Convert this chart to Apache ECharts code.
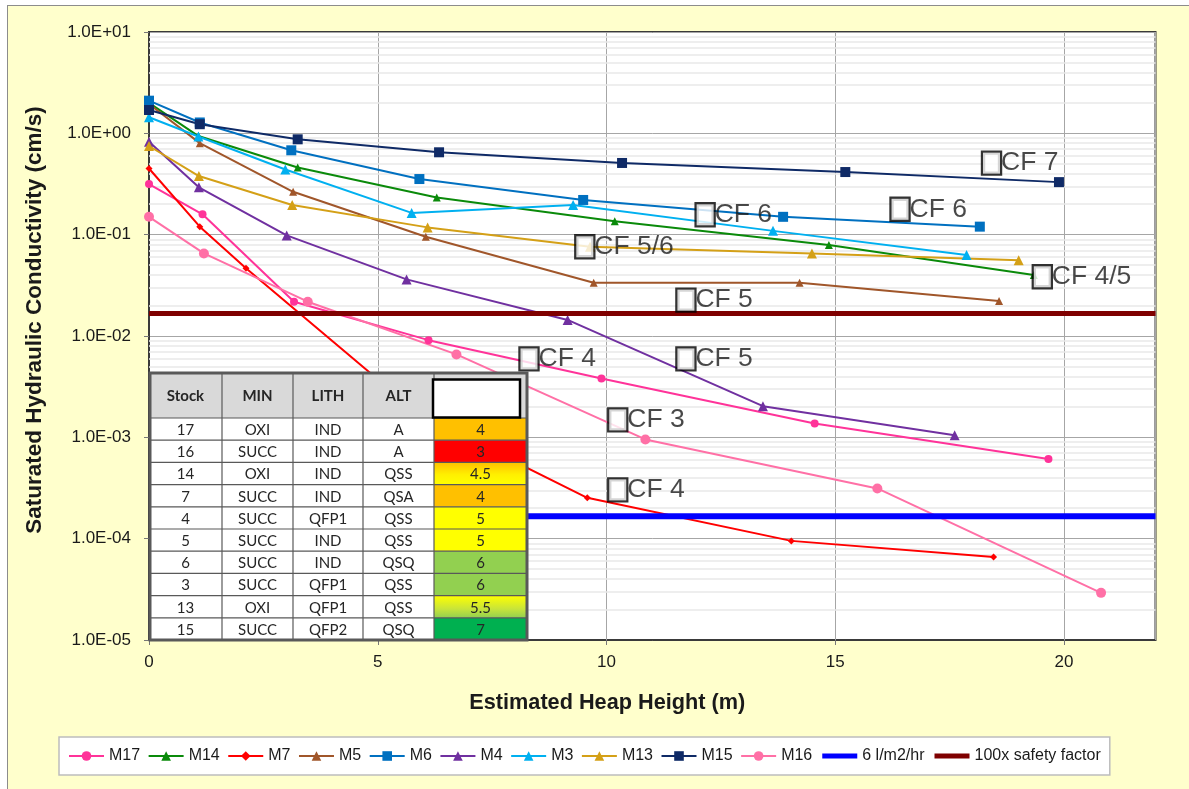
<!DOCTYPE html>
<html>
<head>
<meta charset="utf-8">
<title>Saturated Hydraulic Conductivity vs Estimated Heap Height</title>
<script src="https://cdn.jsdelivr.net/npm/echarts@6/dist/echarts.min.js"></script>
<style>
  html, body { margin: 0; padding: 0; background: #fff; }
  #frame { position: absolute; left: 7px; top: 5px; width: 1182px; height: 784px;
           background: #FFFFCC; border-left: 1px solid #8c8c8c; border-top: 1px solid #8c8c8c;
           box-sizing: border-box; }
  #chart { position: absolute; left: 0; top: 0; width: 1189px; height: 789px; }
</style>
</head>
<body>
<div id="frame"></div>
<div id="chart"></div>
<script>
// ---- Column test results: estimated heap height (m) vs saturated K (cm/s) ----
const m17X = [0, 1.17, 3.17, 6.11, 9.89, 14.55, 19.66];
const m17Y = [0.316, 0.159, 0.0218, 0.0091, 0.0038, 0.00137, 0.00061];

const m14X = [0, 1.08, 3.25, 6.29, 10.18, 14.86, 19.34];
const m14Y = [2.0, 0.94, 0.46, 0.233, 0.136, 0.079, 0.040];

const m7X = [0, 1.11, 2.12, 5.9, 9.58, 14.04, 18.46];
const m7Y = [0.45, 0.12, 0.0467, 0.0017, 0.000253, 0.0000951, 0.0000661];

const m5X = [0, 1.11, 3.15, 6.05, 9.72, 14.22, 18.58];
const m5Y = [1.95, 0.80, 0.265, 0.0955, 0.0335, 0.0335, 0.0222];

const m6X = [0, 1.11, 3.11, 5.91, 9.49, 13.86, 18.16];
const m6Y = [2.1, 1.28, 0.68, 0.354, 0.22, 0.150, 0.120];

const m4X = [0, 1.09, 3.01, 5.63, 9.15, 13.42, 17.61];
const m4Y = [0.826, 0.293, 0.0984, 0.0362, 0.0144, 0.00203, 0.00105];

const m3X = [0, 1.08, 2.98, 5.74, 9.27, 13.64, 17.87];
const m3Y = [1.44, 0.93, 0.44, 0.164, 0.196, 0.109, 0.063];

const m13X = [0, 1.09, 3.13, 6.09, 9.64, 14.49, 19.01];
const m13Y = [0.75, 0.379, 0.196, 0.118, 0.076, 0.0653, 0.056];

const m15X = [0, 1.11, 3.25, 6.34, 10.34, 15.22, 19.89];
const m15Y = [1.70, 1.23, 0.873, 0.65, 0.51, 0.415, 0.33];

const m16X = [0, 1.20, 3.47, 6.72, 10.85, 15.92, 20.81];
const m16Y = [0.150, 0.0653, 0.0218, 0.00658, 0.000953, 0.000313, 0.0000292];

// Design limits (cm/s): 6 l/m2/hr irrigation rate and the same with a 100x safety factor
const limitX = [0, 22];
const irrigationK = [0.0001667, 0.0001667];
const safetyK = [0.01667, 0.01667];

// Competency-factor notes placed on the chart (data coordinates)
const noteX = [18.23, 11.97, 16.23, 9.34, 19.34, 11.55, 8.12, 11.55, 10.06, 10.06];
const noteY = [0.508, 0.157, 0.178, 0.0759, 0.0384, 0.0226, 0.00594, 0.00594, 0.001486, 0.000303];
const noteText = ['CF 7', 'CF 6', 'CF 6', 'CF 5/6', 'CF 4/5', 'CF 5', 'CF 4', 'CF 5', 'CF 3', 'CF 4'];

// Stock classification table
const tblHeader = ['Stock', 'MIN', 'LITH', 'ALT', ''];
const tblStock = ['17', '16', '14', '7', '4', '5', '6', '3', '13', '15'];
const tblMin = ['OXI', 'SUCC', 'OXI', 'SUCC', 'SUCC', 'SUCC', 'SUCC', 'SUCC', 'OXI', 'SUCC'];
const tblLith = ['IND', 'IND', 'IND', 'IND', 'QFP1', 'IND', 'IND', 'QFP1', 'QFP1', 'QFP2'];
const tblAlt = ['A', 'A', 'QSS', 'QSA', 'QSS', 'QSS', 'QSQ', 'QSS', 'QSS', 'QSQ'];
const tblCf = [4, 3, 4.5, 4, 5, 5, 6, 6, 5.5, 7];

// Minor log grid values (2..9 of each decade)
const minorGrid = [];
for (let e = -5; e < 1; e++) {
  for (let m = 2; m <= 9; m++) minorGrid.push(m * Math.pow(10, e));
}

const FONT = '"Liberation Sans", Arial, sans-serif';
const TFONT = 'Lato, "Open Sans", sans-serif';

function pairs(xs, ys) { return xs.map((x, i) => [x, ys[i]]); }

function sciLabel(v) {
  const e = Math.round(Math.log10(v));
  return '1.0E' + (e < 0 ? '-' : '+') + String(Math.abs(e)).padStart(2, '0');
}

const seriesDefs = [
  { name: 'M17', x: m17X, y: m17Y, color: '#FF3399', symbol: 'circle', size: 8 },
  { name: 'M14', x: m14X, y: m14Y, color: '#0A8A0A', symbol: 'triangle', size: 8 },
  { name: 'M7', x: m7X, y: m7Y, color: '#FF0000', symbol: 'diamond', size: 7 },
  { name: 'M5', x: m5X, y: m5Y, color: '#A0562A', symbol: 'triangle', size: 8 },
  { name: 'M6', x: m6X, y: m6Y, color: '#0070C0', symbol: 'rect', size: 10 },
  { name: 'M4', x: m4X, y: m4Y, color: '#7030A0', symbol: 'triangle', size: 10 },
  { name: 'M3', x: m3X, y: m3Y, color: '#00B0F0', symbol: 'triangle', size: 10 },
  { name: 'M13', x: m13X, y: m13Y, color: '#D4A017', symbol: 'triangle', size: 10 },
  { name: 'M15', x: m15X, y: m15Y, color: '#0F2A66', symbol: 'rect', size: 10 },
  { name: 'M16', x: m16X, y: m16Y, color: '#FF70A6', symbol: 'circle', size: 10 }
];

const series = [];

// light minor gridlines, kept underneath the data lines
series.push({
  name: 'minor-grid', type: 'line', data: [], z: 1, silent: true,
  markLine: {
    z: 1, silent: true, symbol: ['none', 'none'], label: { show: false },
    lineStyle: { color: '#e9e9e9', width: 1.5, type: 'solid' },
    emphasis: { disabled: true },
    data: minorGrid.map(v => [{ coord: [0, v] }, { coord: [22, v] }])
  }
});

seriesDefs.forEach(d => {
  series.push({
    name: d.name, type: 'line', data: pairs(d.x, d.y),
    symbol: d.symbol, symbolSize: d.size, showAllSymbol: true,
    itemStyle: { color: d.color }, lineStyle: { color: d.color, width: 2 },
    z: 3, emphasis: { disabled: true }
  });
});

series.push({
  name: '6 l/m2/hr', type: 'line', data: pairs(limitX, irrigationK), symbol: 'none',
  itemStyle: { color: '#0000FF' }, lineStyle: { color: '#0000FF', width: 6 }, z: 4,
  emphasis: { disabled: true }
});
series.push({
  name: '100x safety factor', type: 'line', data: pairs(limitX, safetyK), symbol: 'none',
  itemStyle: { color: '#7F0000' }, lineStyle: { color: '#7F0000', width: 5 }, z: 4,
  emphasis: { disabled: true }
});

// CF notes: an empty framed box followed by the label text
series.push({
  name: 'notes', type: 'scatter', z: 6, silent: true,
  data: noteX.map((x, i) => [x, noteY[i], noteText[i]]),
  symbolSize: 0,
  label: {
    show: true, position: 'right', distance: 0,
    formatter: p => '{b| }{t|' + p.data[2] + '}',
    rich: {
      b: { width: 17, height: 21, backgroundColor: '#fff', borderColor: '#000', borderWidth: 2.2 },
      t: { fontFamily: FONT, fontSize: 26.5, color: '#1a1a1a', padding: [0, 0, 0, 1] }
    }
  }
});

// ---- table overlay ----
const colEdges = [149, 222, 293, 363, 434, 527];
const tTop = 373, headH = 45, rowH = 22.2;
const tBottom = tTop + headH + rowH * tblStock.length;

function cfFill(v) {
  const G = echarts.graphic.LinearGradient;
  if (v === 3) return '#FF0000';
  if (v === 4) return '#FFC000';
  if (v === 4.5) return new G(0, 0, 0, 1, [{ offset: 0, color: '#FFC000' }, { offset: 0.55, color: '#FFF000' }, { offset: 1, color: '#FFFF00' }]);
  if (v === 5) return '#FFFF00';
  if (v === 5.5) return new G(0, 0, 0, 1, [{ offset: 0, color: '#FFFF00' }, { offset: 0.6, color: '#C8E43A' }, { offset: 1, color: '#92D050' }]);
  if (v === 6) return '#92D050';
  return '#00B050';
}

const tbl = [];
const tW = colEdges[colEdges.length - 1] - colEdges[0];
tbl.push({ type: 'rect', z: 50, shape: { x: colEdges[0], y: tTop, width: tW, height: headH }, style: { fill: '#D9D9D9' } });
tbl.push({ type: 'rect', z: 50, shape: { x: colEdges[0], y: tTop + headH, width: tW, height: rowH * tblStock.length }, style: { fill: '#fff' } });
tblCf.forEach((v, i) => {
  tbl.push({ type: 'rect', z: 51, shape: { x: colEdges[4], y: tTop + headH + i * rowH, width: colEdges[5] - colEdges[4], height: rowH }, style: { fill: cfFill(v) } });
});
// cell rules
colEdges.slice(1, -1).forEach(x => {
  tbl.push({ type: 'line', z: 52, shape: { x1: x, y1: tTop, x2: x, y2: tBottom }, style: { stroke: '#595959', lineWidth: 1.2 } });
});
for (let i = 0; i < tblStock.length; i++) {
  const y = tTop + headH + i * rowH;
  tbl.push({ type: 'line', z: 52, shape: { x1: colEdges[0], y1: y, x2: colEdges[5], y2: y }, style: { stroke: '#595959', lineWidth: 1.2 } });
}
// header cells
tblHeader.forEach((h, c) => {
  if (!h) return;
  tbl.push({ type: 'text', z: 53, style: { text: h, x: (colEdges[c] + colEdges[c + 1]) / 2, y: tTop + headH / 2 + 1,
    align: 'center', verticalAlign: 'middle', font: 'bold 15px ' + TFONT, fill: '#262626' } });
});
tbl.push({ type: 'rect', z: 53, shape: { x: colEdges[4] - 1, y: tTop + 6.5, width: colEdges[5] - colEdges[4] - 6, height: headH - 7 },
  style: { fill: '#fff', stroke: '#000', lineWidth: 2.5 } });
// body cells
const cols = [tblStock, tblMin, tblLith, tblAlt, tblCf.map(String)];
cols.forEach((col, c) => {
  col.forEach((txt, r) => {
    tbl.push({ type: 'text', z: 53, style: { text: txt, x: (colEdges[c] + colEdges[c + 1]) / 2, y: tTop + headH + r * rowH + rowH / 2 + 1,
      align: 'center', verticalAlign: 'middle', font: '15px ' + TFONT, fill: '#262626' } });
  });
});
tbl.push({ type: 'rect', z: 54, shape: { x: colEdges[0] + 1, y: tTop, width: tW - 1, height: tBottom - tTop },
  style: { fill: 'none', stroke: '#595959', lineWidth: 3 } });

const legendNames = seriesDefs.map(d => d.name)
  .concat([
    { name: '6 l/m2/hr', itemStyle: { opacity: 0 }, lineStyle: { width: 5 } },
    { name: '100x safety factor', itemStyle: { opacity: 0 }, lineStyle: { width: 5 } }
  ]);

const chart = echarts.init(document.getElementById('chart'), null, { renderer: 'canvas' });
chart.setOption({
  animation: false,
  backgroundColor: 'transparent',
  grid: { left: 149, right: 33.5, top: 32, bottom: 149, show: true, backgroundColor: '#fff',
          borderColor: '#3a3a3a', borderWidth: 2 },
  xAxis: {
    type: 'value', min: 0, max: 22, interval: 5,
    name: 'Estimated Heap Height (m)', nameLocation: 'middle', nameGap: 52,
    nameTextStyle: { fontFamily: FONT, fontWeight: 'bold', fontSize: 21.7, color: '#1a1a1a', padding: [0, 90, 0, 0] },
    axisLine: { show: true, onZero: false, lineStyle: { color: '#3a3a3a', width: 1 } },
    axisTick: { show: true, length: 5, lineStyle: { color: '#777' } },
    axisLabel: { fontFamily: FONT, fontSize: 17, color: '#1a1a1a', margin: 14, showMaxLabel: false },
    splitLine: { show: true, lineStyle: { color: '#a6a6a6', width: 1 } }
  },
  yAxis: {
    type: 'log', logBase: 10, min: 0.00001, max: 10, splitNumber: 6,
    name: 'Saturated Hydraulic Conductivity (cm/s)', nameLocation: 'middle', nameGap: 103,
    nameTextStyle: { fontFamily: FONT, fontWeight: 'bold', fontSize: 22.5, color: '#1a1a1a', padding: [0, 0, 0, 32] },
    axisLine: { show: true, lineStyle: { color: '#3a3a3a', width: 1 } },
    axisTick: { show: true, length: 5, lineStyle: { color: '#777' } },
    minorTick: { show: false },
    axisLabel: { fontFamily: FONT, fontSize: 17, color: '#1a1a1a', margin: 18, formatter: sciLabel },
    splitLine: { show: true, lineStyle: { color: '#a6a6a6', width: 1 } }
  },
  legend: {
    data: legendNames, left: 59, top: 737, orient: 'horizontal',
    itemWidth: 35, itemHeight: 12, itemGap: 7.5,
    padding: [11, 9, 11, 9],
    backgroundColor: '#fff', borderColor: '#bdbdbd', borderWidth: 1.5,
    textStyle: { fontFamily: FONT, fontSize: 16, color: '#1a1a1a' },
    selectedMode: false
  },
  graphic: [{ type: 'group', z: 50, children: tbl }],
  series: series
});
</script>
</body>
</html>
